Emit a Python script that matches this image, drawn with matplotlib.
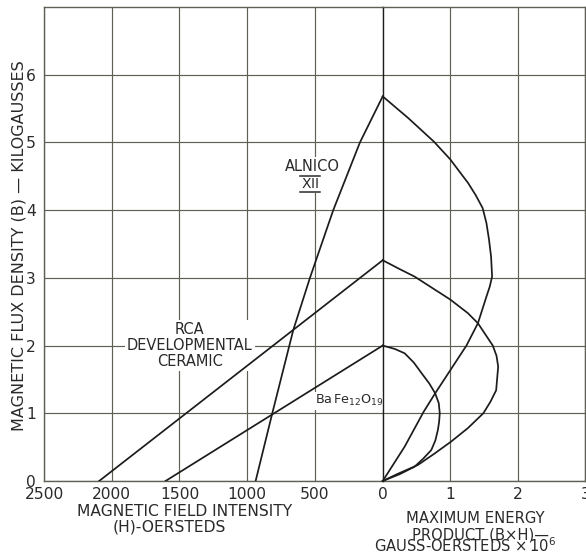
import matplotlib
matplotlib.use("Agg")
import matplotlib.pyplot as plt
from matplotlib.lines import Line2D

# Demagnetization curves: H in oersteds, B in kilogausses
alnico_H = [0, 168, 365, 537, 660, 815, 938]
alnico_B = [5.68, 5.0, 4.0, 3.0, 2.23, 1.0, 0.0]
rca_H = [0, 2093]
rca_B = [3.26, 0.0]
bafe_H = [0, 1603]
bafe_B = [2.0, 0.0]

# Energy product curves: B x H in gauss-oersteds x 10^6 against B
alnico_BH = [0, 0.378, 0.76, 1.0, 1.265, 1.378, 1.48, 1.536, 1.575, 1.605, 1.62,
             1.585, 1.535, 1.41, 1.24, 0.777, 0.605, 0.325, 0]
alnico_BH_B = [5.68, 5.36, 5.01, 4.75, 4.40, 4.22, 4.03, 3.81, 3.56, 3.31, 3.02,
               2.87, 2.72, 2.33, 2.0, 1.295, 1.02, 0.507, 0]
rca_BH = [0, 0.25, 0.47, 1.0, 1.26, 1.41, 1.63, 1.685, 1.71, 1.68, 1.595, 1.49,
          1.26, 1.01, 0.76, 0.52, 0.21, 0]
rca_BH_B = [3.26, 3.13, 3.02, 2.68, 2.48, 2.33, 2.0, 1.85, 1.69, 1.34, 1.17, 1.0,
            0.78, 0.58, 0.40, 0.236, 0.10, 0]
bafe_BH = [0, 0.18, 0.325, 0.46, 0.57, 0.69, 0.777, 0.83, 0.845, 0.835, 0.817,
           0.78, 0.72, 0.60, 0.47, 0.25, 0]
bafe_BH_B = [2.0, 1.95, 1.886, 1.75, 1.60, 1.44, 1.295, 1.15, 1.0, 0.87, 0.753,
             0.60, 0.458, 0.33, 0.21, 0.10, 0]

h_ticks = [2500, 2000, 1500, 1000, 500, 0]
e_ticks = [1, 2, 3]
b_ticks = [0, 1, 2, 3, 4, 5, 6]

GRID = "#5f5f55"
INK = "#1c1c1c"
TXT = "#2a2a2a"
FS = 11.2

W, H = 586, 553
fig = plt.figure(figsize=(W / 100, H / 100), dpi=100)
fig.patch.set_facecolor("white")

left, mid, right = 44 / W, 382.7 / W, 585.3 / W
bottom, top = (H - 481) / H, (H - 7) / H
axH = fig.add_axes([left, bottom, mid - left, top - bottom])
axE = fig.add_axes([mid, bottom, right - mid, top - bottom], sharey=axH)
axE.patch.set_visible(False)

for ax in (axH, axE):
    ax.set_ylim(0, 7)
    ax.grid(True, color=GRID, linewidth=0.85)
    ax.set_axisbelow(True)
    ax.tick_params(length=0, labelsize=FS, labelcolor=TXT, pad=4)
    for s in ax.spines.values():
        s.set_color(GRID)
        s.set_linewidth(1.0)

axH.set_xlim(2500, 0)
axH.set_xticks(h_ticks)
axH.set_xticklabels([str(t) for t in h_ticks])
axH.set_yticks(b_ticks)
axH.set_yticklabels([str(t) for t in b_ticks])
axH.tick_params(axis="y", pad=6)
axH.spines["right"].set_visible(False)

axE.set_xlim(0, 3)
axE.set_xticks(e_ticks)
axE.set_xticklabels([str(t) for t in e_ticks])
axE.tick_params(axis="y", labelleft=False)
axE.spines["left"].set_color(INK)
axE.spines["right"].set_visible(True)

lw = 1.25
kw = dict(color=INK, lw=lw, solid_joinstyle="round", zorder=3)
axH.plot(alnico_H, alnico_B, **kw)
axH.plot(rca_H, rca_B, **kw)
axH.plot(bafe_H, bafe_B, **kw)
axE.plot(alnico_BH, alnico_BH_B, clip_on=False, **kw)
axE.plot(rca_BH, rca_BH_B, clip_on=False, **kw)
axE.plot(bafe_BH, bafe_BH_B, clip_on=False, **kw)

box = dict(facecolor="white", edgecolor="none", pad=1.5)
axH.text(520, 4.64, "ALNICO", fontsize=10.5, color=TXT, ha="center", va="center",
         bbox=box, zorder=2.2)
xii = axH.text(537, 4.39, r"$\mathrm{XII}$", fontsize=10, color=TXT,
               ha="center", va="center", bbox=box, zorder=2.2)
axH.text(1423, 2.0, "RCA\nDEVELOPMENTAL\nCERAMIC", fontsize=10.5, color=TXT,
         ha="center", va="center", linespacing=1.05, multialignment="center",
         bbox=box, zorder=2.2)
axH.text(500, 1.133, r"$\mathrm{Ba\,Fe_{12}O_{19}}$", fontsize=9.2, color=TXT,
         ha="left", va="baseline", zorder=2.2,
         bbox=dict(facecolor="white", edgecolor="none", pad=1))

fig.text(19 / W, 1 - 246 / H, "MAGNETIC FLUX DENSITY (B) — KILOGAUSSES",
         rotation=90, ha="center", va="center", fontsize=11.5, color=TXT)
fig.text(184.5 / W, 1 - 511.7 / H, "MAGNETIC FIELD INTENSITY",
         ha="center", va="center", fontsize=FS, color=TXT)
fig.text(169 / W, 1 - 526.7 / H, "(H)-OERSTEDS",
         ha="center", va="center", fontsize=FS, color=TXT)
fig.text(475 / W, 1 - 523.3 / H, "MAXIMUM ENERGY",
         ha="center", va="baseline", fontsize=10.6, color=TXT)
fig.text(480.5 / W, 1 - 539.5 / H, "PRODUCT (B×H)—",
         ha="center", va="baseline", fontsize=10.6, color=TXT)
fig.text(465 / W, 1 - 551.5 / H, r"GAUSS-OERSTEDS $\times\,$10$^{6}$",
         ha="center", va="baseline", fontsize=10.6, color=TXT)

# Roman-numeral bars above and below "XII"
fig.canvas.draw()
bb = xii.get_window_extent().transformed(fig.transFigure.inverted())
dy = 1.2 / H
for yy in (bb.y0 - dy, bb.y1 + dy):
    fig.add_artist(Line2D([bb.x0 - 1 / W, bb.x1 + 1 / W], [yy, yy],
                          transform=fig.transFigure, color=TXT, lw=1.1))

fig.savefig("out.png", dpi=100, facecolor="white")
